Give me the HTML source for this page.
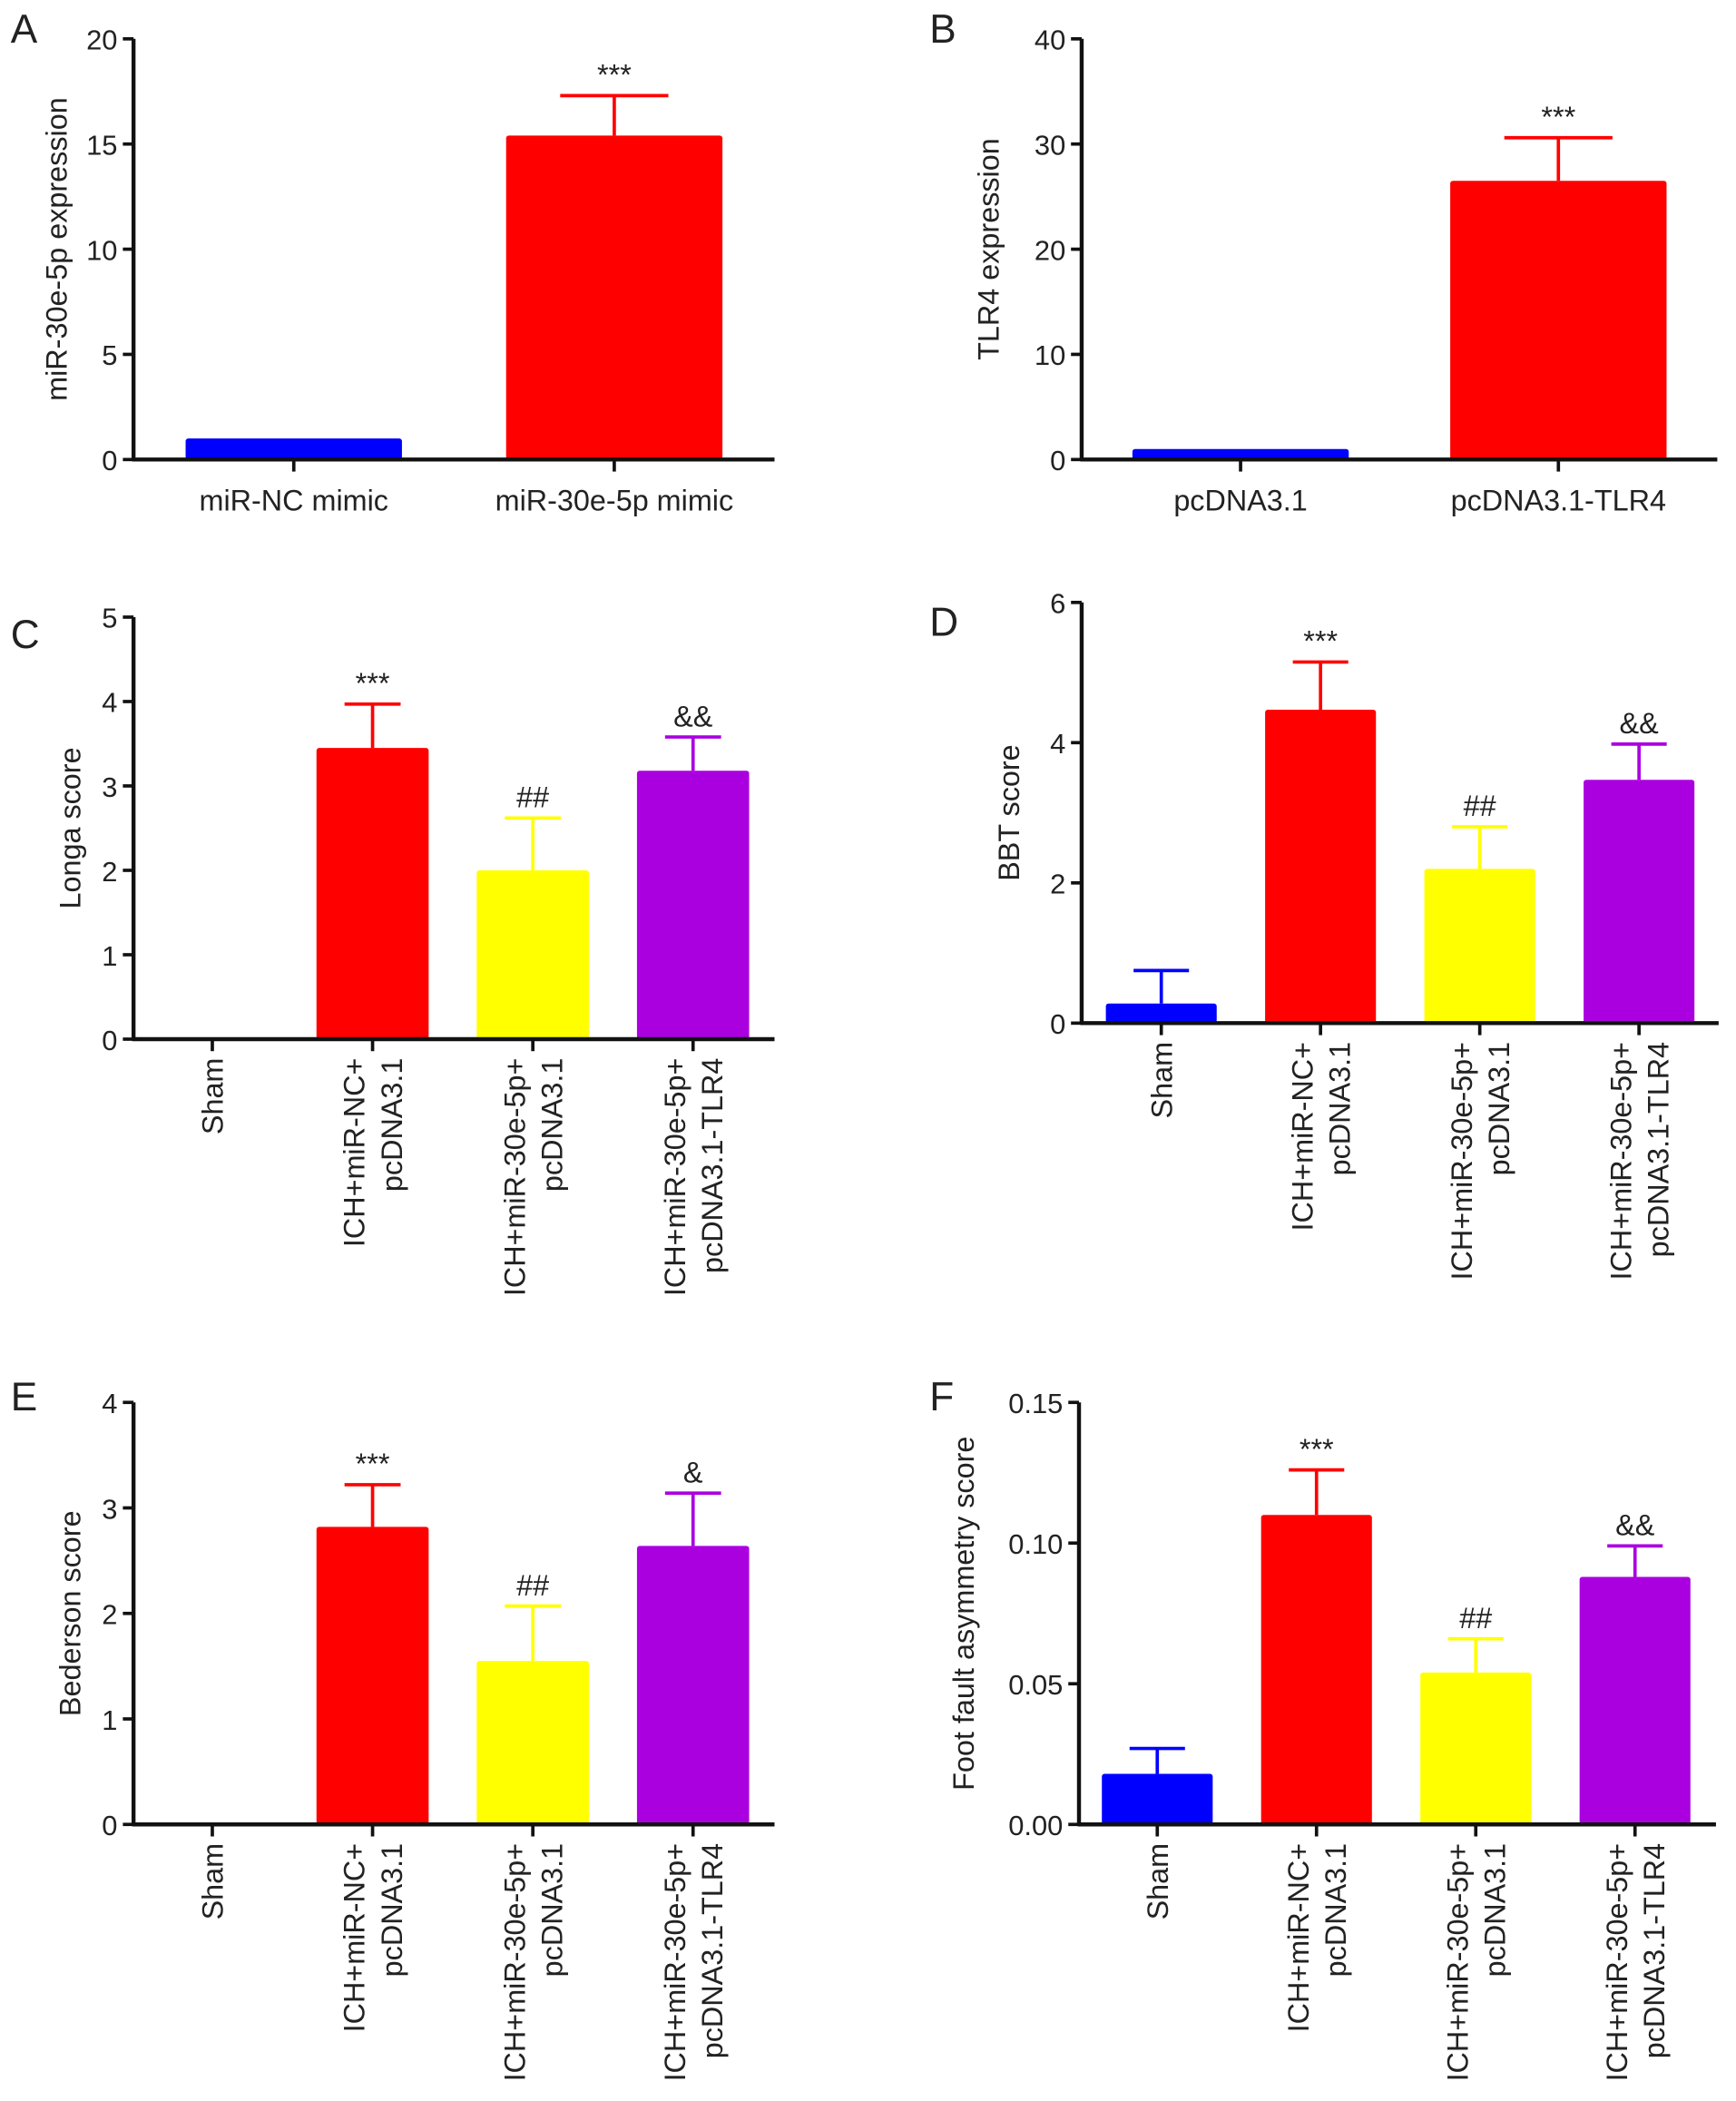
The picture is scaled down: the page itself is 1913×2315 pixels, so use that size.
<!DOCTYPE html>
<html><head><meta charset="utf-8"><style>
html,body{margin:0;padding:0;background:#fff}
svg{display:block}
text{font-family:"Liberation Sans",Arial,sans-serif;fill:#222}
</style></head><body>
<svg id="fig" width="1913" height="2315" viewBox="0 0 1300 1573" xmlns="http://www.w3.org/2000/svg"></svg>
<script>
// Panel A
const catsA = ["miR-NC mimic", "miR-30e-5p mimic"];
const valsA = [1.0, 15.4];
const errA = [null, 17.3];
const annA = ["", "***"];
const ticksA = [0, 5, 10, 15, 20];
// Panel B
const catsB = ["pcDNA3.1", "pcDNA3.1-TLR4"];
const valsB = [1.0, 26.5];
const errB = [null, 30.6];
const annB = ["", "***"];
const ticksB = [0, 10, 20, 30, 40];
// Groups for C-F
const catsGroup = [["Sham"], ["ICH+miR-NC+", "pcDNA3.1"], ["ICH+miR-30e-5p+", "pcDNA3.1"], ["ICH+miR-30e-5p+", "pcDNA3.1-TLR4"]];
// Panel C
const valsC = [0, 3.45, 2.0, 3.18];
const errC = [null, 3.97, 2.62, 3.58];
const annC = ["", "***", "##", "&&"];
const ticksC = [0, 1, 2, 3, 4, 5];
// Panel D
const valsD = [0.28, 4.47, 2.2, 3.47];
const errD = [0.75, 5.15, 2.8, 3.98];
const annD = ["", "***", "##", "&&"];
const ticksD = [0, 2, 4, 6];
// Panel E
const valsE = [0, 2.82, 1.55, 2.64];
const errE = [null, 3.22, 2.07, 3.14];
const annE = ["", "***", "##", "&"];
const ticksE = [0, 1, 2, 3, 4];
// Panel F
const valsF = [0.018, 0.11, 0.054, 0.088];
const errF = [0.027, 0.126, 0.066, 0.099];
const annF = ["", "***", "##", "&&"];
const ticksF = [0, 0.05, 0.10, 0.15];
const tickLabF = ["0.00", "0.05", "0.10", "0.15"];

const NS = "http://www.w3.org/2000/svg";
const svg = document.getElementById('fig');
function mk(tag, attrs, parent, txt){
  const e = document.createElementNS(NS, tag);
  for (const k in attrs) e.setAttribute(k, attrs[k]);
  if (txt !== undefined) e.textContent = txt;
  (parent || svg).appendChild(e);
  return e;
}
const colors4 = ["#0000ff", "#ff0000", "#ffff00", "#aa00e0"];
const colors2 = ["#0000ff", "#ff0000"];

function panel(o){
  const g = mk('g', {});
  
  
  const L = mk('text', {x: o.lx, y: o.ly, 'font-size': 30}, g, o.letter);
  
  
  const y = v => o.y0 - (v - o.min) / (o.max - o.min) * (o.y0 - o.y1);
  const n = o.cats.length;
  const step = (o.xe - o.x0) / n;
  const cx = i => o.x0 + step * (i + 0.5) + (o.shift || 0);
  const ya = mk('line', {x1: o.x0, y1: o.y1, x2: o.x0, y2: o.y0 + 1, stroke: '#111', 'stroke-width': 3}, g);
  
  
  o.ticks.forEach((t, i) => {
    mk('line', {x1: o.x0 - 8, y1: y(t), x2: o.x0, y2: y(t), stroke: '#111', 'stroke-width': 2.5}, g);
    const tl = mk('text', {x: o.x0 - 12, y: y(t) + 8, 'font-size': 21, 'text-anchor': 'end'}, g, o.tickLab ? o.tickLab[i] : String(t));
    
    
  });
  const yt = mk('text', {x: 0, y: 0, 'font-size': 22, 'text-anchor': 'middle', transform: `translate(${o.tx},${(o.y0 + o.y1) / 2}) rotate(-90)`}, g, o.title);
  
  
  o.vals.forEach((v, i) => {
    const c = o.colors[i];
    const bw = o.bw;
    if (v > 0) {
      const r = mk('rect', {x: cx(i) - bw / 2, y: y(v), width: bw, height: o.y0 - y(v), fill: c, rx: 2}, g);
      
      
    }
    if (o.err[i] !== null) {
      const eg = mk('g', {stroke: c, 'stroke-width': 2.5}, g);
      
      
      mk('line', {x1: cx(i), y1: y(v), x2: cx(i), y2: y(o.err[i])}, eg);
      mk('line', {x1: cx(i) - bw / 4, y1: y(o.err[i]), x2: cx(i) + bw / 4, y2: y(o.err[i])}, eg);
    }
    if (o.ann[i]) {
      const a = mk('text', {x: cx(i), y: y(o.err[i]) - 8, 'font-size': 22, 'text-anchor': 'middle'}, g, o.ann[i]);
      
      
    }
    mk('line', {x1: cx(i), y1: o.y0, x2: cx(i), y2: o.y0 + 9, stroke: '#111', 'stroke-width': 2.5}, g);
    const lab = o.cats[i];
    if (o.rot) {
      const lines = Array.isArray(lab) ? lab : [lab];
      const nl = lines.length;
      lines.forEach((s, k) => {
        const xx = cx(i) + (k - (nl - 1) / 2) * 28 + 8;
        const t = mk('text', {x: 0, y: 0, 'font-size': 22, 'text-anchor': 'end', transform: `translate(${xx},${o.y0 + 14}) rotate(-90)`}, g, s);
        
        
      });
    } else {
      const t = mk('text', {x: cx(i), y: o.y0 + 38, 'font-size': 22, 'text-anchor': 'middle'}, g, lab);
      
      
    }
  });
  const xa = mk('line', {x1: o.x0 - 1, y1: o.y0, x2: o.xe, y2: o.y0, stroke: '#111', 'stroke-width': 3}, g);
  
  
}

panel({letter: 'A', lx: 8, ly: 32, x0: 100, xe: 580, y0: 344, y1: 29, min: 0, max: 20, ticks: ticksA, cats: catsA, vals: valsA, err: errA, ann: annA, colors: colors2, bw: 162, title: 'miR-30e-5p expression', tx: 50, rot: false, shift: 0});
panel({letter: 'B', lx: 696, ly: 32, x0: 810, xe: 1286, y0: 344, y1: 29, min: 0, max: 40, ticks: ticksB, cats: catsB, vals: valsB, err: errB, ann: annB, colors: colors2, bw: 162, title: 'TLR4 expression', tx: 748, rot: false, shift: 0});
panel({letter: 'C', lx: 8, ly: 485, x0: 100, xe: 580, y0: 778, y1: 462, min: 0, max: 5, ticks: ticksC, cats: catsGroup, vals: valsC, err: errC, ann: annC, colors: colors4, bw: 84, title: 'Longa score', tx: 60, rot: true, shift: -1});
panel({letter: 'D', lx: 696, ly: 476, x0: 810, xe: 1287, y0: 766, y1: 451, min: 0, max: 6, ticks: ticksD, cats: catsGroup, vals: valsD, err: errD, ann: annD, colors: colors4, bw: 83, title: 'BBT score', tx: 763, rot: true, shift: 0});
panel({letter: 'E', lx: 8, ly: 1056, x0: 100, xe: 580, y0: 1366, y1: 1050, min: 0, max: 4, ticks: ticksE, cats: catsGroup, vals: valsE, err: errE, ann: annE, colors: colors4, bw: 84, title: 'Bederson score', tx: 60, rot: true, shift: -1});
panel({letter: 'F', lx: 696, ly: 1056, x0: 808, xe: 1285, y0: 1366, y1: 1050, min: 0, max: 0.15, ticks: ticksF, tickLab: tickLabF, cats: catsGroup, vals: valsF, err: errF, ann: annF, colors: colors4, bw: 83, title: 'Foot fault asymmetry score', tx: 729, rot: true, shift: -1});
</script>
</body></html>
